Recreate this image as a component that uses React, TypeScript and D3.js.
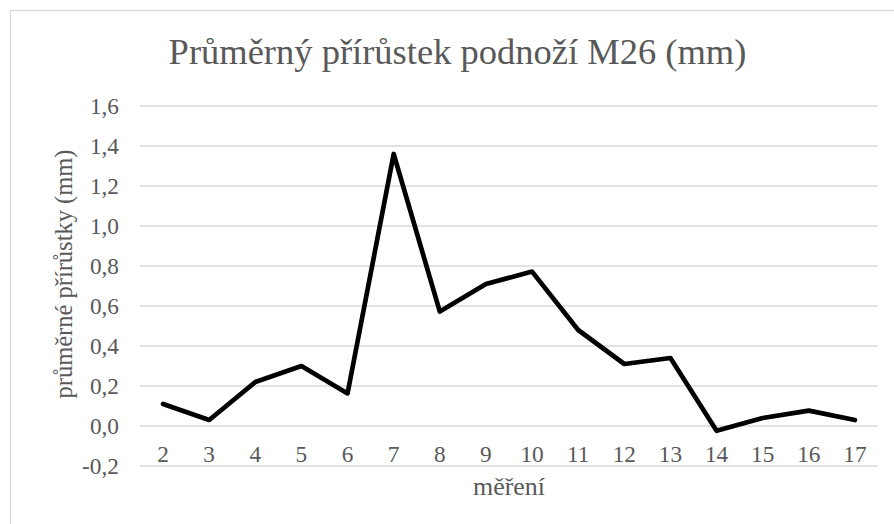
import React from "react";
import * as d3 from "d3";

const categories = ["2","3","4","5","6","7","8","9","10","11","12","13","14","15","16","17"];
const values = [0.11, 0.03, 0.22, 0.30, 0.163, 1.36, 0.572, 0.71, 0.772, 0.48, 0.31, 0.34, -0.024, 0.04, 0.077, 0.03];
const yTicks = [-0.2, 0, 0.2, 0.4, 0.6, 0.8, 1.0, 1.2, 1.4, 1.6];
const title = "Průměrný přírůstek podnoží M26 (mm)";
const yTitle = "průměrné přírůstky (mm)";
const xTitle = "měření";

export default function App() {
  const W = 894, H = 524;
  const left = 140, right = 878, top = 106, bottom = 466;
  const x = d3.scaleBand<string>().domain(categories).range([left, right]);
  const y = d3.scaleLinear().domain([-0.2, 1.6]).range([bottom, top]);
  const line = d3.line<number>()
    .x((_, i) => (x(categories[i]) as number) + x.bandwidth() / 2)
    .y((d) => y(d));
  const font = "'Liberation Serif', 'Times New Roman', serif";
  const fmt = (v: number) => v.toFixed(1).replace(".", ",");
  return (
    <svg width={W} height={H} style={{ position: "absolute", left: 0, top: 0 }} fontFamily={font}>
      <rect x={0} y={0} width={W} height={H} fill="#fff" />
      <rect x={10.5} y={10.5} width={W + 10} height={H + 10} fill="#fff" stroke="#d9d9d9" strokeWidth={1.3} />
      <text x={457.5} y={64} textAnchor="middle" fontSize={36.5} fill="#595959">{title}</text>
      {yTicks.map((t) => (
        <g key={t}>
          <line x1={left} x2={right} y1={y(t)} y2={y(t)} stroke="#d9d9d9" strokeWidth={1.3} />
          <text x={119} y={y(t)} dy="0.35em" textAnchor="end" fontSize={23.3} fill="#595959">{fmt(t)}</text>
        </g>
      ))}
      {categories.map((c) => (
        <text key={c} x={(x(c) as number) + x.bandwidth() / 2} y={462} textAnchor="middle" fontSize={23.3} fill="#595959">{c}</text>
      ))}
      <text transform={`translate(72, 274) rotate(-90)`} textAnchor="middle" fontSize={24.5} fill="#595959">{yTitle}</text>
      <text x={509} y={495} textAnchor="middle" fontSize={25.9} fill="#595959">{xTitle}</text>
      <path d={line(values) || ""} fill="none" stroke="#000" strokeWidth={4.7} strokeLinejoin="round" strokeLinecap="round" />
    </svg>
  );
}
